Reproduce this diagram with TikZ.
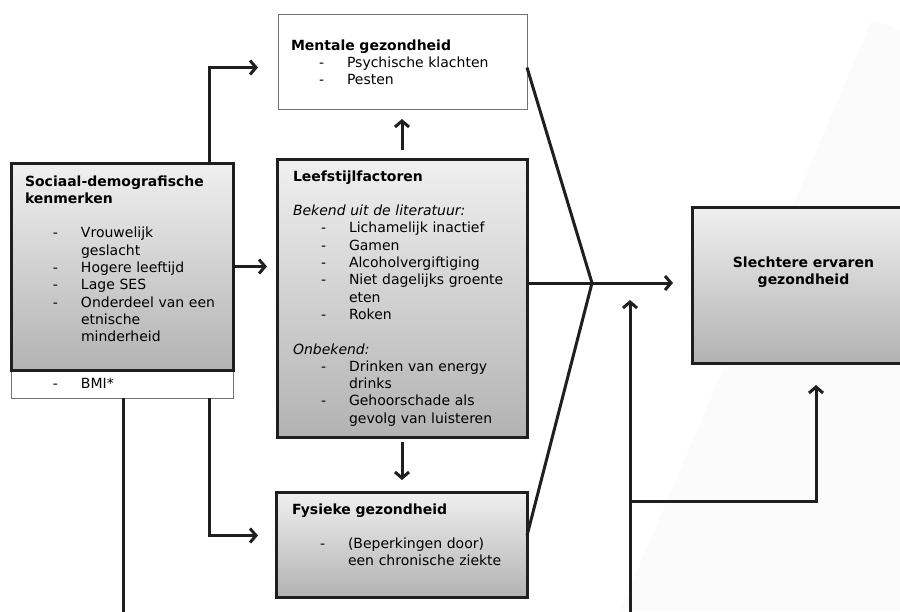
\documentclass[tikz,border=0pt]{standalone}
\usepackage{fontspec}
\setmainfont{DejaVu Sans}
\usepackage{tikz}
\usetikzlibrary{arrows.meta,shadows,positioning}

\newcommand{\blankline}{\par\vspace{\baselineskip}}
\newcommand{\dashitem}[1]{\leavevmode\hangindent=56pt\hangafter=1\hbox to 56pt{\hskip 28pt-\hfil}#1\par}

\begin{document}
\begin{tikzpicture}[x=1pt,y=-1pt]
				\tikzstyle{Box}		= [draw, rectangle, anchor=north west, outer sep=0pt, inner ysep=0pt, align=left, font=\fontsize{14}{17.3}\selectfont]
				\tikzstyle{Thick}	= [line width=3pt, draw=black!88, top color=black!6, bottom color=black!30, drop shadow={shadow xshift=2pt, shadow yshift=-2pt, opacity=0.3}]
				\tikzstyle{Thin}	= [line width=1pt, draw=black!55, fill=white]
				\tikzstyle{Line}	= [line width=3pt, draw=black!88, line join=miter]
				\tikzstyle{Arrow}	= [Line, -{Straight Barb[length=6pt,width=14pt]}]

				\useasboundingbox (0,0) rectangle (900,611);
				\fill [black!1.5] (872,20) -- (900,30) -- (900,611) -- (620,611) -- cycle;

				\node (mental) at (278,14) [Box][Thin][text width=223pt, inner xsep=13pt, text height=36pt, text depth=59pt]
					{\textbf{Mentale gezondheid}\par
					 \dashitem{Psychische klachten}
					 \dashitem{Pesten}};
				\node (bmi) at (11,370) [Box][Thin][text width=194pt, inner xsep=14pt, text height=18pt, text depth=10pt]
					{\dashitem{BMI*}};
				\node (socio) at (11,163) [Box][Thick][text width=194pt, inner xsep=14pt, text height=23pt, text depth=184pt]
					{\textbf{Sociaal-demografische\newline kenmerken}\blankline
					 \dashitem{Vrouwelijk\newline geslacht}
					 \dashitem{Hogere leeftijd}
					 \dashitem{Lage SES}
					 \dashitem{Onderdeel van een\newline etnische\newline minderheid}};
				\node (leef) at (277,159) [Box][Thick][text width=218pt, inner xsep=16pt, text height=22pt, text depth=256pt]
					{\textbf{Leefstijlfactoren}\blankline
					 \textit{Bekend uit de literatuur:}\par
					 \dashitem{Lichamelijk inactief}
					 \dashitem{Gamen}
					 \dashitem{Alcoholvergiftiging}
					 \dashitem{Niet dagelijks groente\newline eten}
					 \dashitem{Roken}\blankline
					 \textit{Onbekend:}\par
					 \dashitem{Drinken van energy\newline drinks}
					 \dashitem{Gehoorschade als\newline gevolg van luisteren}};
				\node (fysiek) at (276,492) [Box][Thick][text width=219pt, inner xsep=16pt, text height=22pt, text depth=83pt]
					{\textbf{Fysieke gezondheid}\blankline
					 \dashitem{(Beperkingen door)\newline een chronische ziekte}};
				\node (uitk) at (692,207) [Box][Thick][align=center, text width=203pt, inner xsep=10pt, text height=60pt, text depth=96pt]
					{\textbf{Slechtere ervaren}\\\textbf{gezondheid}};

				\coordinate (meet) at (592,283);
				\coordinate (bot1) at (123,620);
				\coordinate (bot2) at (630,620);
				\coordinate (knik) at (630,501);

				\draw [Arrow, shorten >=20pt] ([xshift=-24pt]socio.north east) |- ([yshift=-6pt]mental.west);
				\draw [Arrow, shorten >=10pt] (socio.east) -- (socio.east -| leef.west);
				\draw [Arrow, shorten >=18pt] ([xshift=-24pt]bmi.south east) |- ([yshift=9pt]fysiek.west);
				\draw [Line] ([xshift=-110pt]bmi.south east) -- (bot1);
				\draw [Arrow, shorten <=9pt, shorten >=10pt] (leef.north) -- (leef.north |- mental.south);
				\draw [Arrow, shorten <=5pt, shorten >=12pt] (leef.south) -- (leef.south |- fysiek.north);
				\draw [Line] ([yshift=-6pt]mental.east) -- (meet) -- ([yshift=9pt]fysiek.east);
				\draw [Line] (leef.east |- meet) -- (meet);
				\draw [Arrow, shorten >=19pt] (meet) -- (meet -| uitk.west);
				\draw [Arrow, shorten >=17pt] (bot2) -- (bot2 |- meet);
				\draw [Arrow, shorten >=22pt] (knik) -| ([xshift=12.5pt]uitk.south);
			\end{tikzpicture}
\end{document}
